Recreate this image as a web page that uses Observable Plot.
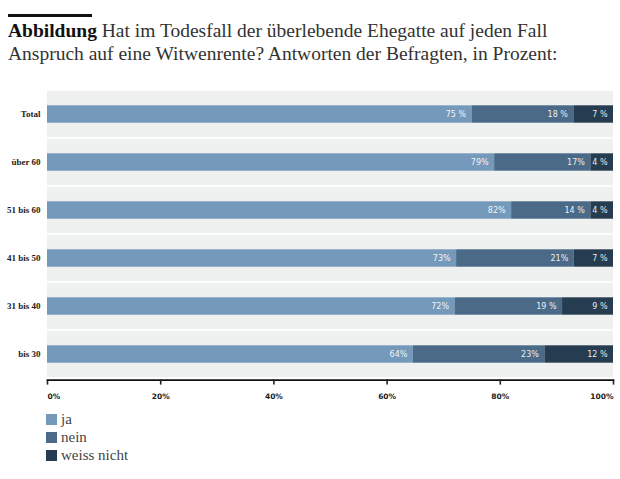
<!DOCTYPE html>
<html>
<head>
<meta charset="utf-8">
<script src="https://cdn.jsdelivr.net/npm/d3@7"></script>
<script src="https://cdn.jsdelivr.net/npm/@observablehq/plot@0.6"></script>
<style>
  html, body { margin: 0; padding: 0; background: #fff; }
  #wrap { position: relative; width: 620px; height: 479px; overflow: hidden; }
  #bar { position: absolute; left: 8px; top: 14px; width: 84px; height: 3px; background: #111; }
  #title { position: absolute; left: 8px; top: 19px; width: 612px; font-family: "Liberation Serif", serif; font-size: 19.5px; line-height: 23px; color: #333; white-space: nowrap; }
  #title b { color: #111; }
  #chart { position: absolute; left: 0; top: 80px; }
  #legend { position: absolute; left: 46px; top: 410px; font-family: "Liberation Serif", serif; font-size: 15px; color: #444; }
  .item { display: flex; align-items: center; height: 18px; }
  .sw { width: 11px; height: 11px; margin-right: 4px; }
</style>
</head>
<body>
<div id="wrap">
  <div id="bar"></div>
  <div id="title"><b>Abbildung</b> Hat im Todesfall der überlebende Ehegatte auf jeden Fall<br>Anspruch auf eine Witwenrente? Antworten der Befragten, in Prozent:</div>
  <div id="chart"></div>
  <div id="legend"></div>
</div>
<script>
const categories = ["Total", "über 60", "51 bis 60", "41 bis 50", "31 bis 40", "bis 30"];
const answers = ["ja", "nein", "weiss nicht"];
const colors = ["#7599bb", "#4b6a87", "#253c51"];
const ja = [75, 79, 82, 73, 72, 64];
const nein = [18, 17, 14, 21, 19, 23];
const weissNicht = [7, 4, 4, 7, 9, 12];
const jaLabels = ["75 %", "79%", "82%", "73%", "72%", "64%"];
const neinLabels = ["18 %", "17%", "14 %", "21%", "19 %", "23%"];
const weissNichtLabels = ["7 %", "4 %", "4 %", "7 %", "9 %", "12 %"];
const tickValues = [0, 0.2, 0.4, 0.6, 0.8, 1];

const series = [ja, nein, weissNicht];
const labelSeries = [jaLabels, neinLabels, weissNichtLabels];
const rows = [];
categories.forEach((c, i) => {
  answers.forEach((a, j) => {
    rows.push({cat: c, answer: a, value: series[j][i], label: labelSeries[j][i]});
  });
});
const bg = categories.map(c => ({cat: c}));

const H = 330;
const stackOpts = {x: "value", y: "cat", z: "answer", offset: "normalize", order: null};
const fmt = d => Math.round(d * 100) + "%";
const tickFont = {fontSize: 7.5, fontWeight: "bold", fontFamily: "DejaVu Sans, sans-serif", color: "#222"};

const chart = Plot.plot({
  width: 620,
  height: H,
  marginTop: 8,
  marginBottom: H - 8 - 291.6,
  marginLeft: 47,
  marginRight: 7,
  style: {fontFamily: "Liberation Serif, serif", background: "transparent"},
  x: {domain: [0, 1], axis: null},
  y: {domain: categories, padding: 0, axis: null},
  color: {domain: answers, range: colors},
  marks: [
    Plot.barX(bg, {y: "cat", x1: 0, x2: 1, fill: "#eff0f0", insetTop: 0.8, insetBottom: 0.8}),
    Plot.barX(rows, Plot.stackX({...stackOpts, fill: "answer", insetTop: 15.3, insetBottom: 15.3})),
    Plot.text(rows, Plot.stackX2({...stackOpts, text: "label", textAnchor: "end", dx: -6, fill: "white", fillOpacity: 0.92, fontSize: 8, fontFamily: "DejaVu Sans, sans-serif"})),
    Plot.axisY({tickSize: 0, tickPadding: 7, fontSize: 9, fontWeight: "bold", label: null, color: "#222", fill: "#222"}),
    Plot.frame({anchor: "bottom", stroke: "#111", strokeWidth: 1.6}),
    Plot.axisX({ticks: tickValues.slice(1, -1), tickFormat: fmt, tickSize: 5, tickPadding: 9, strokeWidth: 1.6, label: null, ...tickFont}),
    Plot.axisX({ticks: tickValues.slice(0, 1), tickFormat: fmt, tickSize: 5, tickPadding: 9, strokeWidth: 1.6, label: null, textAnchor: "start", ...tickFont}),
    Plot.axisX({ticks: tickValues.slice(-1), tickFormat: fmt, tickSize: 5, tickPadding: 9, strokeWidth: 1.6, label: null, textAnchor: "end", ...tickFont})
  ]
});
document.getElementById("chart").appendChild(chart);

const legend = document.getElementById("legend");
answers.forEach((a, j) => {
  const it = document.createElement("div");
  it.className = "item";
  const sw = document.createElement("span");
  sw.className = "sw";
  sw.style.background = colors[j];
  const t = document.createElement("span");
  t.textContent = a;
  it.appendChild(sw);
  it.appendChild(t);
  legend.appendChild(it);
});
</script>
</body>
</html>
